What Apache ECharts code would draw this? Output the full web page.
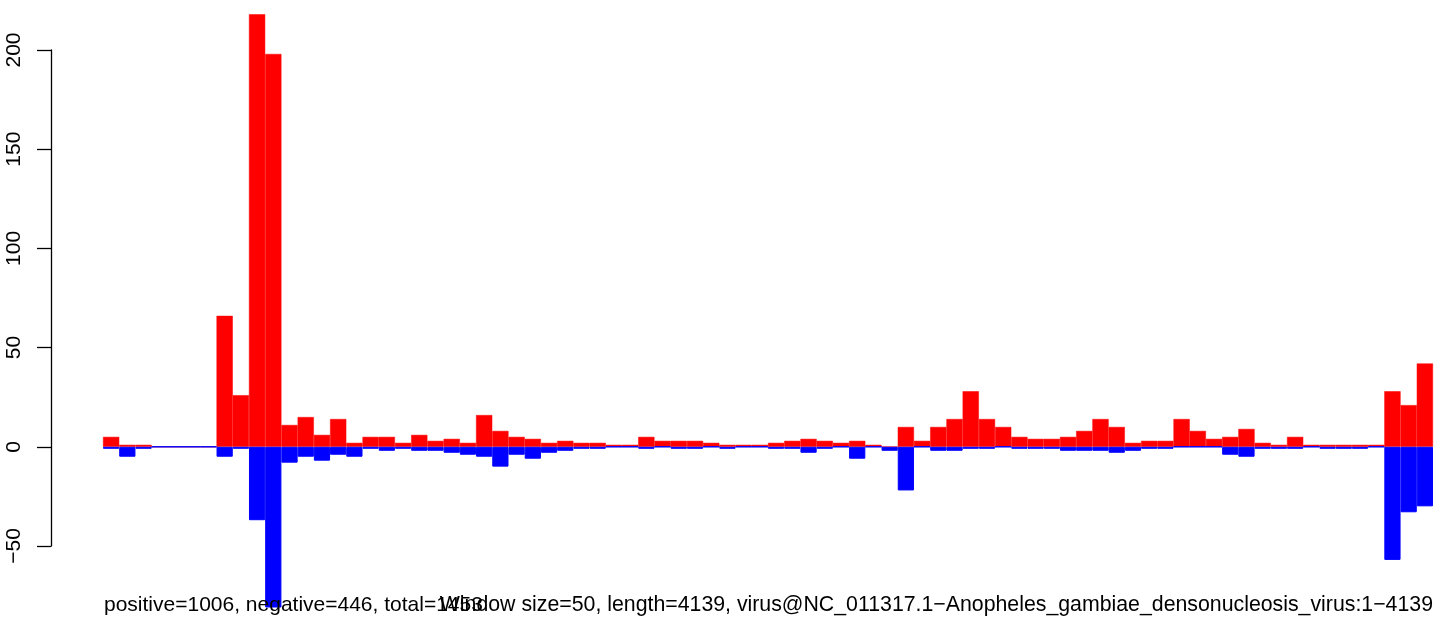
<!DOCTYPE html>
<html>
<head>
<meta charset="utf-8">
<script src="https://cdn.jsdelivr.net/npm/echarts@6/dist/echarts.min.js"></script>
<style>
  html, body { margin: 0; padding: 0; background: #fff; }
  #chart { width: 1450px; height: 622px; }
</style>
</head>
<body>
<div id="chart"></div>
<script>
  // counts per 50 nt window, positive strand (red) and negative strand (blue)
  var positive = [5, 1, 1, 0, 0, 0, 0, 66, 26, 218, 198, 11, 15, 6, 14, 2, 5, 5, 2, 6,
    3, 4, 2, 16, 8, 5, 4, 2, 3, 2, 2, 1, 1, 5, 3, 3, 3, 2, 1, 1, 1,
    2, 3, 4, 3, 2, 3, 1, 0, 10, 3, 10, 14, 28, 14, 10, 5, 4, 4, 5, 8,
    14, 10, 2, 3, 3, 14, 8, 4, 5, 9, 2, 1, 5, 1, 1, 1, 1, 1, 28, 21, 42];
  var negative = [-1, -5, -1, 0, 0, 0, 0, -5, -1, -37, -81, -8, -5, -7, -4, -5, -1, -2, -1, -2,
    -2, -3, -4, -5, -10, -4, -6, -3, -2, -1, -1, 0, 0, -1, 0, -1, -1, 0, -1, 0, 0,
    -1, -1, -3, -1, 0, -6, 0, -2, -22, 0, -2, -2, -1, -1, 0, -1, -1, -1, -2, -2,
    -2, -3, -2, -1, -1, 0, 0, 0, -4, -5, -1, -1, -1, 0, -1, -1, -1, 0, -57, -33, -30];
  var windows = positive.map(function (v, i) { return String(i * 50 + 1); });
  var yTicks = [-50, 0, 50, 100, 150, 200];

  var leftText = 'positive=1006, negative=446, total=1453';
  var rightText = 'Window size=50, length=4139, virus@NC_011317.1\u2212Anopheles_gambiae_densonucleosis_virus:1\u22124139';

  var myChart = echarts.init(document.getElementById('chart'));
  var font = '"Liberation Sans", Arial, Helvetica, sans-serif';
  var option = {
    animation: false,
    backgroundColor: '#fff',
    title: [
      {
        text: leftText, left: 99, top: 590,
        textStyle: { fontFamily: font, fontSize: 21, fontWeight: 'normal', color: '#000' }
      },
      {
        text: rightText, right: 12, top: 590,
        textStyle: { fontFamily: font, fontSize: 21.3, fontWeight: 'normal', color: '#000' }
      }
    ],
    grid: { left: 103, right: 17, top: 50, bottom: 76 },
    xAxis: {
      type: 'category',
      data: windows,
      boundaryGap: true,
      show: false
    },
    yAxis: {
      type: 'value',
      min: yTicks[0],
      max: yTicks[yTicks.length - 1],
      interval: 50,
      offset: 52,
      splitLine: { show: false },
      axisLine: { show: true, lineStyle: { color: '#000', width: 1.3 } },
      axisTick: { show: true, length: 14, lineStyle: { color: '#000', width: 1.3 } },
      axisLabel: {
        rotate: 90,
        margin: 26,
        color: '#000',
        fontFamily: font,
        fontSize: 21,
        formatter: function (v) { return String(v).replace('-', '\u2212'); }
      }
    },
    series: [
      {
        name: 'positive',
        type: 'bar',
        data: positive,
        barWidth: '100%',
        barGap: '-100%',
        clip: false,
        itemStyle: { color: '#ff0000', borderColor: '#ff0000', borderWidth: 0.5 }
      },
      {
        name: 'negative',
        type: 'bar',
        data: negative,
        barWidth: '100%',
        barGap: '-100%',
        clip: false,
        itemStyle: { color: '#0000ff', borderColor: '#0000ff', borderWidth: 1 }
      }
    ]
  };
  myChart.setOption(option);
</script>
</body>
</html>
